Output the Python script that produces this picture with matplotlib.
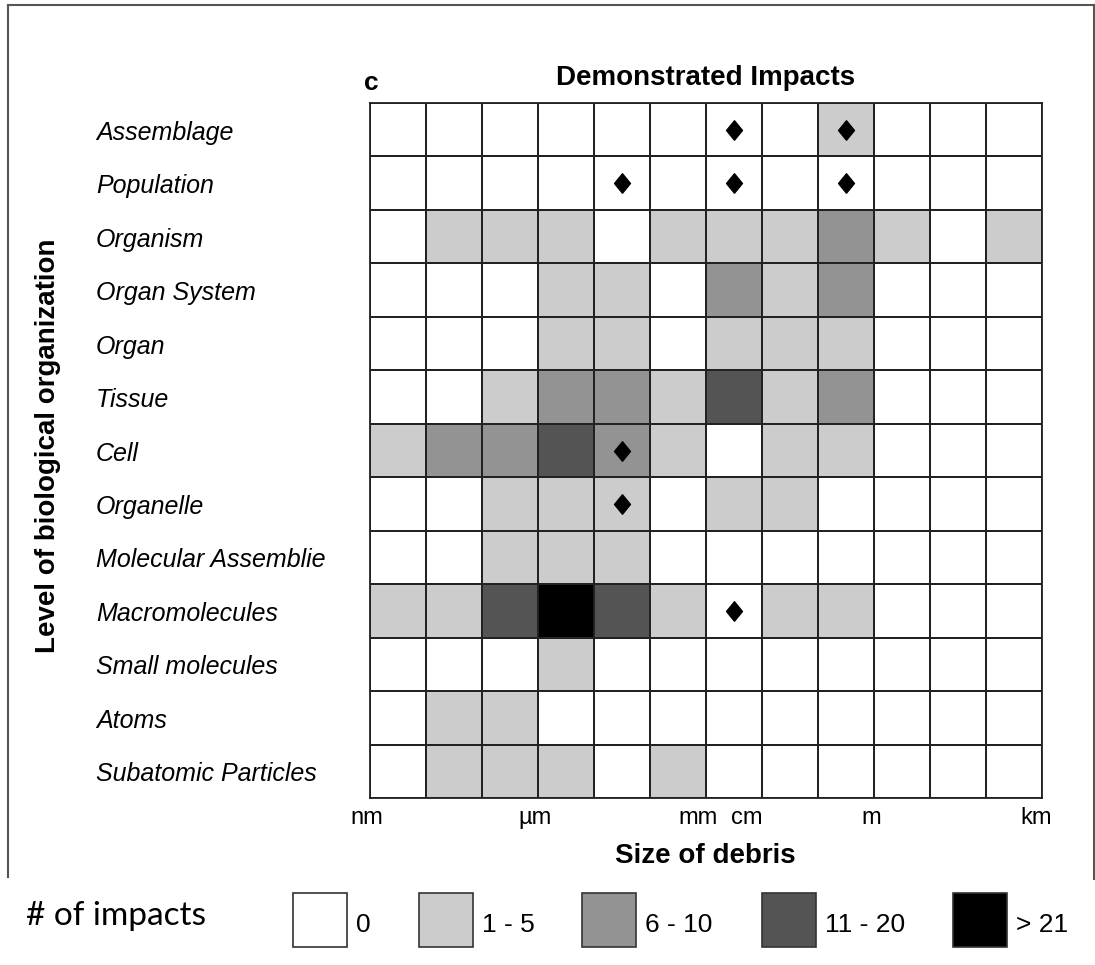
import matplotlib
matplotlib.use("Agg")
import matplotlib.pyplot as plt
import matplotlib.transforms as mtransforms
from matplotlib.colors import ListedColormap, BoundaryNorm
from matplotlib.patches import Rectangle
from matplotlib.lines import Line2D
from matplotlib.path import Path
import numpy as np

W, H, DPI = 1095, 965, 100

levels = ["Assemblage", "Population", "Organism", "Organ System", "Organ", "Tissue",
          "Cell", "Organelle", "Molecular Assemblie", "Macromolecules",
          "Small molecules", "Atoms", "Subatomic Particles"]

# impact class per cell: 0 = none, 1 = 1-5, 2 = 6-10, 3 = 11-20, 4 = >21
impacts = [
    [0, 0, 0, 0, 0, 0, 0, 0, 1, 0, 0, 0],
    [0, 0, 0, 0, 0, 0, 0, 0, 0, 0, 0, 0],
    [0, 1, 1, 1, 0, 1, 1, 1, 2, 1, 0, 1],
    [0, 0, 0, 1, 1, 0, 2, 1, 2, 0, 0, 0],
    [0, 0, 0, 1, 1, 0, 1, 1, 1, 0, 0, 0],
    [0, 0, 1, 2, 2, 1, 3, 1, 2, 0, 0, 0],
    [1, 2, 2, 3, 2, 1, 0, 1, 1, 0, 0, 0],
    [0, 0, 1, 1, 1, 0, 1, 1, 0, 0, 0, 0],
    [0, 0, 1, 1, 1, 0, 0, 0, 0, 0, 0, 0],
    [1, 1, 3, 4, 3, 1, 0, 1, 1, 0, 0, 0],
    [0, 0, 0, 1, 0, 0, 0, 0, 0, 0, 0, 0],
    [0, 1, 1, 0, 0, 0, 0, 0, 0, 0, 0, 0],
    [0, 1, 1, 1, 0, 1, 0, 0, 0, 0, 0, 0],
]

# demonstrated impacts (row, column)
diamond_rows = [0, 0, 1, 1, 1, 6, 7, 9]
diamond_cols = [6, 8, 4, 6, 8, 4, 4, 6]

size_labels = ["nm", "µm", "mm", "cm", "m", "km"]
size_pos = [-0.05, 2.95, 5.86, 6.73, 8.95, 11.9]

class_labels = ["0", "1 - 5", "6 - 10", "11 - 20", "> 21"]
class_colors = ["#ffffff", "#cccccc", "#939393", "#545454", "#000000"]

plt.rcParams['font.family'] = ['Liberation Sans', 'DejaVu Sans']

fig = plt.figure(figsize=(W / DPI, H / DPI), dpi=DPI)


def fx(px):
    return px / W


def fy(py):
    return 1 - py / H


gl, gr, gt, gb = 370, 1042, 103, 798
ax = fig.add_axes([fx(gl), fy(gb), (gr - gl) / W, (gb - gt) / H])

data = np.array(impacts)
cmap = ListedColormap(class_colors)
norm = BoundaryNorm(np.arange(-0.5, 5.5, 1), cmap.N)
ax.pcolormesh(np.arange(data.shape[1] + 1), np.arange(data.shape[0] + 1), data,
              cmap=cmap, norm=norm, edgecolors="#222222", linewidth=1.3)

# slightly tall diamond like the original
diamond = Path([(0, 1), (0.82, 0), (0, -1), (-0.82, 0), (0, 1)],
               [Path.MOVETO, Path.LINETO, Path.LINETO, Path.LINETO, Path.CLOSEPOLY])
ax.plot(np.array(diamond_cols) + 0.5, np.array(diamond_rows) + 0.5, linestyle="none",
        marker=diamond, markersize=14, color="black")
ax.set_xlim(0, data.shape[1])
ax.set_ylim(data.shape[0], 0)
ax.set_xticks([])
ax.set_yticks([])
for s in ax.spines.values():
    s.set_color("#222222")
    s.set_linewidth(1.3)

# row labels, left aligned in the margin
row_trans = mtransforms.blended_transform_factory(fig.transFigure, ax.transData) + \
    mtransforms.ScaledTranslation(0, -10 / DPI, fig.dpi_scale_trans)
for i, name in enumerate(levels):
    fig.text(fx(96), i + 0.5, name, transform=row_trans, fontsize=18, style="italic",
             ha="left", va="baseline")

# size tick labels under the grid
tick_trans = ax.transData + mtransforms.ScaledTranslation(0, -26 / DPI, fig.dpi_scale_trans)
for xp, lab in zip(size_pos, size_labels):
    ax.text(xp, data.shape[0], lab, transform=tick_trans, fontsize=17,
            ha="center", va="baseline", clip_on=False)

fig.text(fx(706), fy(85), "Demonstrated Impacts", fontsize=20, fontweight="bold",
         ha="center", va="baseline")
fig.text(fx(364), fy(90), "c", fontsize=19, fontweight="bold", ha="left", va="baseline")
fig.text(fx(705), fy(863), "Size of debris", fontsize=20, fontweight="bold",
         ha="center", va="baseline")
fig.text(fx(48), fy(446), "Level of biological organization", fontsize=20,
         fontweight="bold", rotation=90, ha="center", va="center")

# outer frame (open at the bottom)
frame = dict(color="#555555", linewidth=1.5)
fig.add_artist(Line2D([fx(8), fx(8)], [fy(877), fy(5)], **frame))
fig.add_artist(Line2D([fx(8), fx(1094)], [fy(5), fy(5)], **frame))
fig.add_artist(Line2D([fx(1094), fx(1094)], [fy(5), fy(879)], **frame))

# legend
fig.text(fx(26), fy(925), "# of impacts", fontsize=24, family=["Lato", "DejaVu Sans"],
         ha="left", va="baseline")
box_x = [293, 419, 582, 762, 953]
for bx, lab, col in zip(box_x, class_labels, class_colors):
    fig.add_artist(Rectangle((fx(bx), fy(947)), 54 / W, 54 / H, transform=fig.transFigure,
                             facecolor=col, edgecolor="#333333", linewidth=1.2))
    fig.text(fx(bx + 63), fy(932), lab, fontsize=19, ha="left", va="baseline")

fig.savefig("out.png", dpi=DPI)
